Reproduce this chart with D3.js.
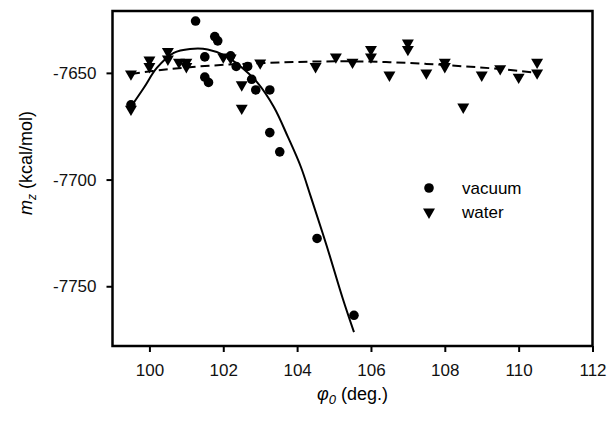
<!DOCTYPE html>
<html>
<head>
<meta charset="utf-8">
<script src="https://cdn.jsdelivr.net/npm/d3@7"></script>
<style>
  body { margin: 0; background: #fff; }
  svg { font-family: "Liberation Sans", Arial, Helvetica, sans-serif; }
</style>
</head>
<body>
<div id="chart"></div>
<script>
// vacuum points [phi0, mz]
const vacuum = [
  [99.5, -7665], [101.25, -7625.7], [101.5, -7642.5], [101.5, -7652], [101.6, -7654.5],
  [101.77, -7633], [101.85, -7635], [102.2, -7642], [102.35, -7647], [102.66, -7647],
  [102.77, -7653], [102.88, -7658], [103.26, -7658], [103.26, -7678], [103.53, -7687],
  [104.54, -7727.6], [105.54, -7763.6]
];
// water points
const water = [
  [99.5, -7650.5], [99.5, -7667], [100.0, -7644], [100.0, -7647], [100.5, -7640],
  [100.5, -7643.5], [100.8, -7645], [101.0, -7645], [101.0, -7647], [102.0, -7642.5],
  [102.2, -7643], [102.5, -7655.6], [102.5, -7666.5], [103.0, -7645.3], [104.5, -7647],
  [105.05, -7642.5], [105.5, -7645], [106.0, -7639], [106.0, -7642.5], [106.5, -7651],
  [107.0, -7636], [107.0, -7639], [107.5, -7650], [108.0, -7645], [108.0, -7647],
  [108.5, -7666], [109.0, -7651], [109.5, -7648], [110.0, -7652], [110.5, -7645],
  [110.5, -7650]
];
// fitted curves
const vacuumFit = [
  [99.52, -7665.4], [99.85, -7657], [100.2, -7647.7], [100.66, -7640.6], [101.1, -7638.8],
  [101.58, -7639], [102.0, -7641.6], [102.47, -7647], [102.93, -7654.7], [103.37, -7666],
  [103.75, -7680], [104.1, -7694], [104.37, -7708], [104.8, -7731], [105.24, -7756],
  [105.54, -7771.5]
];
const waterFit = [
  [99.5, -7650.5], [100.5, -7648.3], [101.5, -7646.8], [102.5, -7645.8], [103.5, -7645.1],
  [104.5, -7644.7], [105.5, -7644.6], [106.5, -7645], [107.5, -7645.8], [108.5, -7646.9],
  [109.5, -7648.2], [110.5, -7650]
];
const xTicks = [100, 102, 104, 106, 108, 110, 112];
const yTicks = [-7650, -7700, -7750];

const width = 610, height = 422;
const svg = d3.select('#chart').append('svg')
  .attr('width', width).attr('height', height);

const x = d3.scaleLinear().domain([99, 112]).range([112.5, 592.5]);
const y = d3.scaleLinear().domain([-7778, -7621]).range([346, 11]);

// X axis
const gx = svg.append('g')
  .attr('transform', `translate(0,${y.range()[0]})`)
  .call(d3.axisBottom(x).tickValues(xTicks).tickSize(6).tickPadding(12).tickFormat(d => String(d)));
gx.select('.domain').remove();
gx.selectAll('.tick line').attr('stroke', '#000').attr('stroke-width', 2);
gx.selectAll('.tick text').style('font-size', '17px').attr('fill', '#111');

// Y axis
const gy = svg.append('g')
  .attr('transform', `translate(${x.range()[0]},0)`)
  .call(d3.axisLeft(y).tickValues(yTicks).tickSize(6).tickPadding(10).tickFormat(d => String(d)));
gy.select('.domain').remove();
gy.selectAll('.tick line').attr('stroke', '#000').attr('stroke-width', 2);
gy.selectAll('.tick text').style('font-size', '17px').attr('fill', '#111');

// frame
svg.append('rect')
  .attr('x', x.range()[0]).attr('y', y.range()[1])
  .attr('width', x.range()[1] - x.range()[0])
  .attr('height', y.range()[0] - y.range()[1])
  .attr('fill', 'none').attr('stroke', '#000').attr('stroke-width', 2.5);

const line = d3.line().x(d => x(d[0])).y(d => y(d[1])).curve(d3.curveCatmullRom);

svg.append('path').datum(waterFit)
  .attr('d', line).attr('fill', 'none').attr('stroke', '#000')
  .attr('stroke-width', 2).attr('stroke-dasharray', '9,5');

svg.append('path').datum(vacuumFit)
  .attr('d', line).attr('fill', 'none').attr('stroke', '#000').attr('stroke-width', 2);

const tri = d3.symbol().type(d3.symbolTriangle).size(62);

svg.append('g').selectAll('path').data(water).join('path')
  .attr('d', tri)
  .attr('transform', d => `translate(${x(d[0])},${y(d[1])}) rotate(180)`)
  .attr('fill', '#000');

svg.append('g').selectAll('circle').data(vacuum).join('circle')
  .attr('cx', d => x(d[0])).attr('cy', d => y(d[1])).attr('r', 4.8)
  .attr('fill', '#000');

// legend
const legend = svg.append('g');
legend.append('circle').attr('cx', 429).attr('cy', 188).attr('r', 4.8).attr('fill', '#000');
legend.append('path').attr('d', tri).attr('transform', 'translate(429,212) rotate(180)').attr('fill', '#000');
legend.append('text').attr('x', 462).attr('y', 194).style('font-size', '17px').text('vacuum');
legend.append('text').attr('x', 462).attr('y', 218).style('font-size', '17px').text('water');

// axis titles
const xt = svg.append('text')
  .attr('x', (x.range()[0] + x.range()[1]) / 2).attr('y', 400)
  .attr('text-anchor', 'middle').style('font-size', '18px');
xt.append('tspan').style('font-style', 'italic').text('φ');
xt.append('tspan').style('font-style', 'italic').style('font-size', '13px').attr('dy', 4).text('0');
xt.append('tspan').attr('dy', -4).text(' (deg.)');

const yt = svg.append('text')
  .attr('transform', 'translate(32,163) rotate(-90)')
  .attr('text-anchor', 'middle').style('font-size', '18px');
yt.append('tspan').style('font-style', 'italic').text('m');
yt.append('tspan').style('font-style', 'italic').style('font-size', '12px').attr('dy', 4).text('z');
yt.append('tspan').attr('dy', -4).text(' (kcal/mol)');
</script>
</body>
</html>
